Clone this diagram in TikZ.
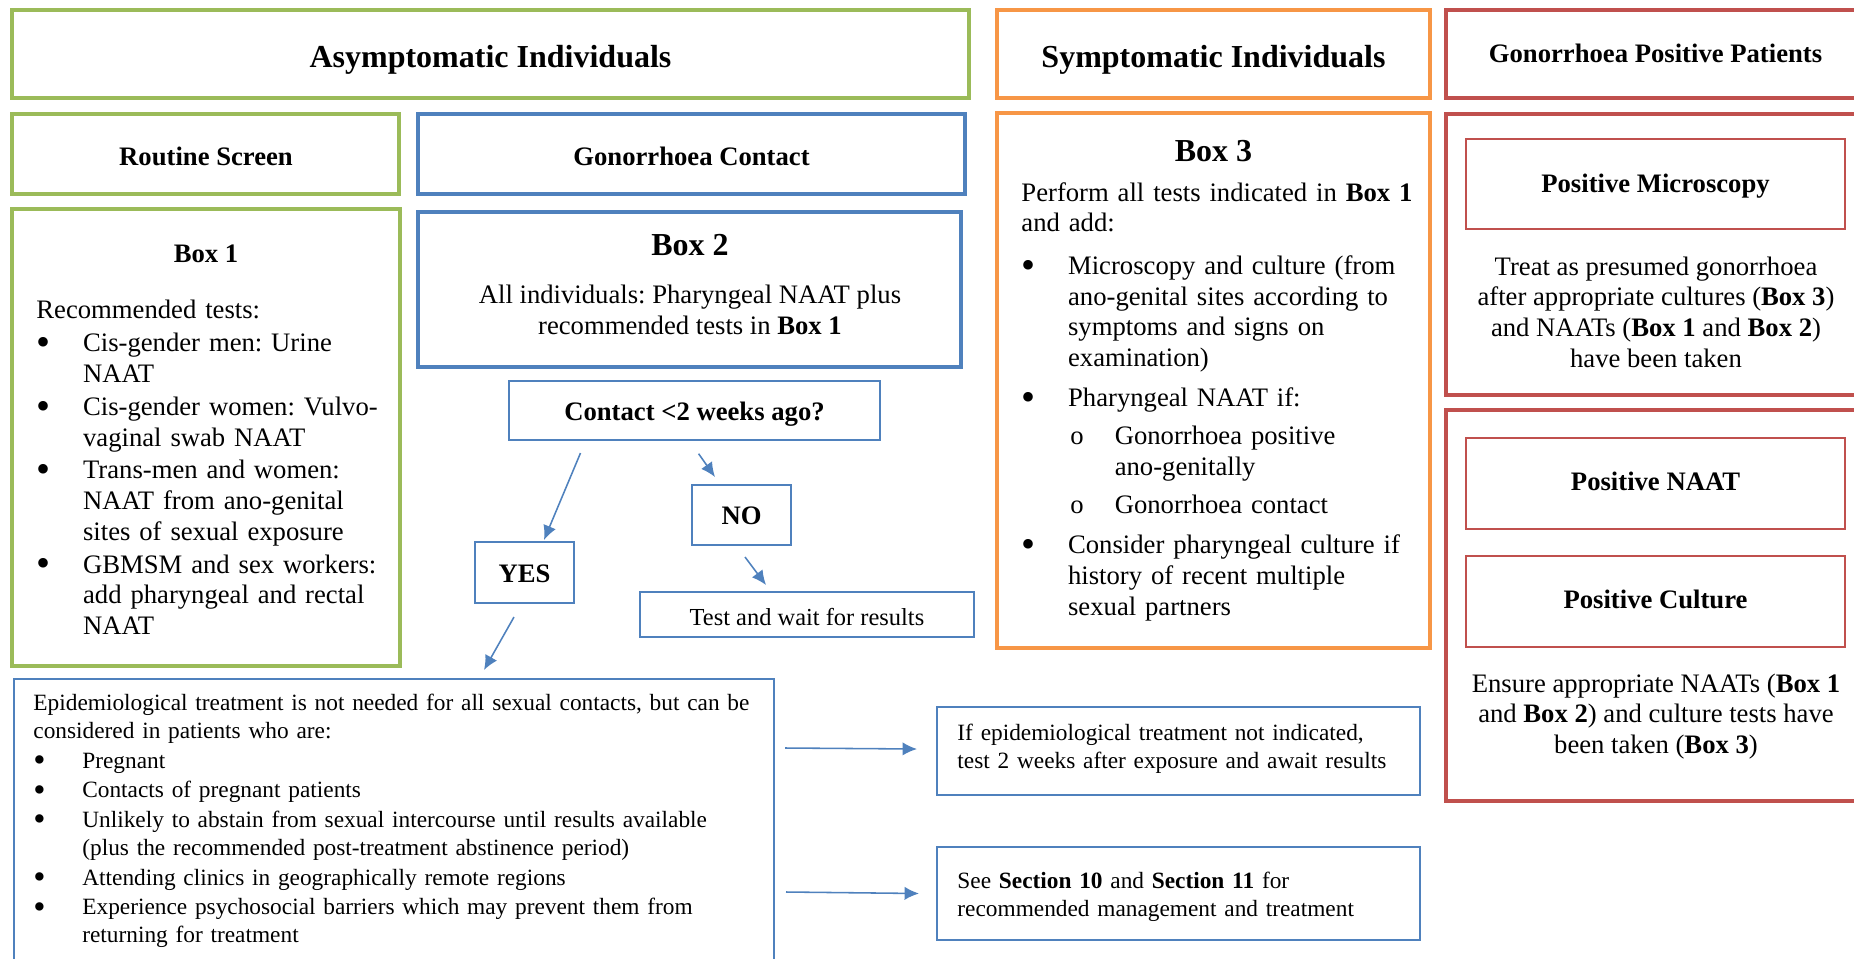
\documentclass[tikz,border=0pt]{standalone}
\usepackage{fontspec}
\setmainfont{Liberation Serif}
\usetikzlibrary{fit,arrows.meta}

\definecolor{ascgreen}{HTML}{9BBB59}
\definecolor{conblue}{HTML}{4F81BD}
\definecolor{symorange}{HTML}{F79646}
\definecolor{posred}{HTML}{C0504D}

\setlength{\parindent}{0pt}
\setlength{\parskip}{0pt}
\frenchspacing

\newcommand{\hdfont}{\fontsize{14.4}{17}\selectfont\bfseries}
\newcommand{\bdfont}{\fontsize{12}{13.8}\selectfont}
\newcommand{\smfont}{\fontsize{10.5}{12.4}\selectfont}
\newcommand{\bigdot}{\raisebox{-0.3ex}[0pt][0pt]{\scalebox{1.5}{\textbullet}}}
% bullet item, text hanging after the bullet
\newcommand{\bitem}[2][1pt]{\par\vspace{#1}\noindent\hangindent=#2\hangafter=1\makebox[#2][l]{\bigdot}}
% second level item with an "o"
\newcommand{\circitem}{\par\vspace{3.5pt}\noindent\hangindent=42pt\hangafter=1\hspace{21pt}\makebox[21pt][l]{\hspace{1pt}o}}

\tikzset{
  headbox/.style={draw=#1, line width=1.8pt, inner sep=0pt, fill=white},
  flowbox/.style={draw=conblue, line width=0.9pt, inner sep=0pt, fill=white},
  redbox/.style={draw=posred, line width=0.8pt, inner sep=0pt, fill=white},
  hdlabel/.style={font=\hdfont, anchor=base, inner sep=0pt},
  bdlabel/.style={font=\bdfont\bfseries, anchor=base, inner sep=0pt},
  listtext/.style={inner sep=0pt, align=left, anchor=north west},
  link/.style={->, draw=conblue, line width=0.7pt}
}

\begin{document}
\begin{tikzpicture}[x=0.45pt, y=-0.45pt, >={Latex[length=6.5pt,width=6pt]}]
  \clip (0,0) rectangle (1854,958);

  % Column headers
  \node[headbox=ascgreen, fit={(12,10) (969,98)}] (asym) {};
  \node[hdlabel] (asymtext) at (490.5,67) {Asymptomatic Individuals};
  \node[headbox=symorange, fit={(997,10) (1430,98)}] (symp) {};
  \node[hdlabel] (symptext) at (1213.5,67) {Symptomatic Individuals};
  \node[headbox=posred, fit={(1446,10) (1866,98)}] (posp) {};
  \node[bdlabel] (posptext) at (1655.5,62) {Gonorrhoea Positive Patients};

  % Asymptomatic: routine screen
  \node[headbox=ascgreen, fit={(12,114) (399,194)}] (routine) {};
  \node[bdlabel] (routinetext) at (206,165) {Routine Screen};
  \node[headbox=ascgreen, fit={(12,209) (400,666)}] (box1) {};
  \node[font=\bdfont\bfseries] (box1title) at (206,254) {Box 1};
  \node[listtext, font=\bdfont, text width=165pt] (box1list) at (36,300) {\noindent Recommended tests:
    \bitem{21pt}Cis-gender men: Urine\newline NAAT
    \bitem{21pt}Cis-gender women: Vulvo-\newline vaginal swab NAAT
    \bitem{21pt}Trans-men and women:\newline NAAT from ano-genital\newline sites of sexual exposure
    \bitem{21pt}GBMSM and sex workers:\newline add pharyngeal and rectal\newline NAAT\par};

  % Asymptomatic: gonorrhoea contact
  \node[headbox=conblue, fit={(418,114) (965,194)}] (gcontact) {};
  \node[bdlabel] (gctext) at (691.5,165) {Gonorrhoea Contact};
  \node[headbox=conblue, line width=2.2pt, fit={(418,212) (961,367)}] (box2) {};
  \node[font=\hdfont] (box2title) at (690,245) {Box 2};
  \node[font=\bdfont, align=center, inner sep=0pt] (box2text) at (690,310) {All individuals: Pharyngeal NAAT plus\\recommended tests in \textbf{Box 1}};

  % Decision on time since contact
  \node[flowbox, fit={(509,381) (880,440)}] (ask) {};
  \node[bdlabel] (asktext) at (694.5,420) {Contact <2 weeks ago?};
  \node[flowbox, fit={(692,485) (791,545)}] (no) {};
  \node[bdlabel] (notext) at (741.5,524) {NO};
  \node[flowbox, fit={(475,542) (574,603)}] (yes) {};
  \node[bdlabel] (yestext) at (524.5,582) {YES};
  \node[flowbox, fit={(640,592) (974,637)}] (wait) {};
  \node[font=\fontsize{11}{12.4}\selectfont, anchor=base, inner sep=0pt] (waittext) at (807,625) {Test and wait for results};

  % Epidemiological treatment
  \node[flowbox, fit={(14,679) (774,1000)}] (epi) {};
  \node[listtext, font=\smfont, text width=345pt] (epilist) at (33,694) {\noindent Epidemiological treatment is not needed for all sexual contacts, but can be\newline considered in patients who are:
    \bitem{22pt}Pregnant
    \bitem{22pt}Contacts of pregnant patients
    \bitem{22pt}Unlikely to abstain from sexual intercourse until results available\newline (plus the recommended post-treatment abstinence period)
    \bitem{22pt}Attending clinics in geographically remote regions
    \bitem{22pt}Experience psychosocial barriers which may prevent them from\newline returning for treatment\par};
  \node[flowbox, fit={(937,707) (1420,795)}] (ifbox) {};
  \node[listtext, font=\fontsize{10.5}{12.6}\selectfont, text width=215pt] (iftext) at (957,724) {If epidemiological treatment not indicated,\\test 2 weeks after exposure and await results};
  \node[flowbox, fit={(937,847) (1420,940)}] (seebox) {};
  \node[listtext, font=\fontsize{10.5}{12.6}\selectfont, text width=215pt] (seetext) at (957,872) {See \textbf{Section 10} and \textbf{Section 11} for\\recommended management and treatment};

  % Symptomatic individuals
  \node[headbox=symorange, fit={(997,113) (1430,648)}] (box3) {};
  \node[font=\hdfont] (box3title) at (1213.5,151) {Box 3};
  \node[listtext, font=\bdfont, text width=185pt] (box3list) at (1021,182) {\noindent Perform all tests indicated in \textbf{Box 1}\newline and add:
    \bitem[5.3pt]{21pt}Microscopy and culture (from\newline ano-genital sites according to\newline symptoms and signs on\newline examination)
    \bitem[4.2pt]{21pt}Pharyngeal NAAT if:
    \circitem Gonorrhoea positive\newline ano-genitally
    \circitem Gonorrhoea contact
    \bitem[4.2pt]{21pt}Consider pharyngeal culture if\newline history of recent multiple\newline sexual partners\par};

  % Gonorrhoea positive patients
  \node[headbox=posred, fit={(1446,114) (1866,395)}] (micbox) {};
  \node[redbox, fit={(1466,139) (1845,229)}] (micro) {};
  \node[bdlabel] (microtext) at (1655.5,192) {Positive Microscopy};
  \node[font=\bdfont, align=center, inner sep=0pt] (treat) at (1656,312) {Treat as presumed gonorrhoea\\after appropriate cultures (\textbf{Box 3})\\and NAATs (\textbf{Box 1} and \textbf{Box 2})\\have been taken};
  \node[headbox=posred, fit={(1446,410) (1866,801)}] (naatbox) {};
  \node[redbox, fit={(1466,438) (1845,529)}] (naat) {};
  \node[bdlabel] (naattext) at (1655.5,490) {Positive NAAT};
  \node[redbox, fit={(1466,556) (1845,647)}] (culture) {};
  \node[bdlabel] (culturetext) at (1655.5,608) {Positive Culture};
  \node[font=\bdfont, align=center, inner sep=0pt] (ensure) at (1656,716.5) {Ensure appropriate NAATs (\textbf{Box 1}\\and \textbf{Box 2}) and culture tests have\\been taken (\textbf{Box 3})};

  % Connectors
  \draw[link] ([shift={(72.5,12)}]ask.south west) -- ([shift={(19.5,-1)}]yes.north);
  \draw[link] ([shift={(190.6,12.7)}]ask.south west) -- ([shift={(24,-7)}]no.north west);
  \draw[link] ([shift={(54,11)}]no.south west) -- ([shift={(127,-6)}]wait.north west);
  \draw[link] ([shift={(40,13)}]yes.south west) -- ([shift={(471,-8)}]epi.north west);
  \draw[link] ([shift={(10,70)}]epi.north east) -- ([shift={(-19,-2)}]ifbox.west);
  \draw[link] ([shift={(11,214)}]epi.north east) -- ([shift={(-17,0)}]seebox.west);
\end{tikzpicture}
\end{document}
